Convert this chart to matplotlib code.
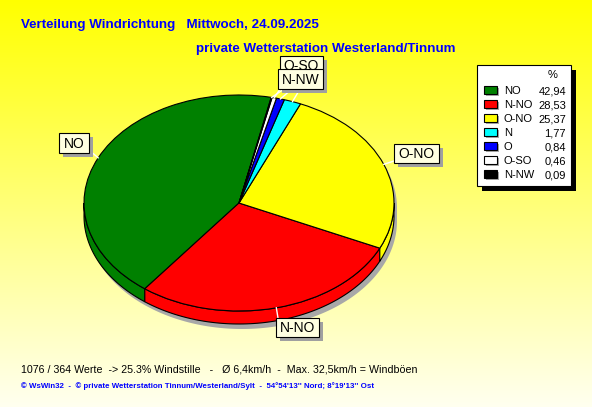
import matplotlib
matplotlib.use('Agg')
import matplotlib.pyplot as plt
import numpy as np
from matplotlib.patches import Rectangle, Polygon

categories = ['NO', 'N-NO', 'O-NO', 'N', 'O', 'O-SO', 'N-NW']
percent = [42.94, 28.53, 25.37, 1.77, 0.84, 0.46, 0.09]
colors = ['#008000', '#FF0000', '#FFFF00', '#00FFFF', '#0000FF', '#FFFFFF', '#000000']
title1 = 'Verteilung Windrichtung   Mittwoch, 24.09.2025'
title2 = 'private Wetterstation Westerland/Tinnum'
footer1 = '1076 / 364 Werte  -> 25.3% Windstille   -   \u00d8 6,4km/h  -  Max. 32,5km/h = Windb\u00f6en'
footer2 = "\u00a9 WsWin32  -  \u00a9 private Wetterstation Tinnum/Westerland/Sylt  -  54\u00b054'13'' Nord; 8\u00b019'13'' Ost"

W, H = 592, 407
fig = plt.figure(figsize=(W / 100, H / 100), dpi=100)
bg = fig.add_axes([0, 0, 1, 1])
bg.set_xlim(0, W)
bg.set_ylim(H, 0)
bg.axis('off')

# background gradient
yy = np.linspace(0, 1, 256)
grad = np.zeros((256, 1, 3))
grad[:, 0, 0] = 1.0
grad[:, 0, 1] = 1.0
grad[:, 0, 2] = 0.0 + 0.94 * yy
bg.imshow(grad, extent=[0, W, H, 0], aspect='auto', interpolation='bilinear')

# pie axes
cx, cy, rx, ry = 239, 203, 155, 108
hw, hh = 200, 160
pax = fig.add_axes([(cx - hw) / W, (H - (cy + hh)) / H, 2 * hw / W, 2 * hh / H])
wedges, _ = pax.pie(percent, colors=colors, startangle=78, counterclock=True,
                    wedgeprops=dict(edgecolor='black', linewidth=0.8, zorder=3))
pax.set_aspect('auto')
pax.set_xlim(-hw / rx, hw / rx)
pax.set_ylim(-hh / ry, hh / ry)
pax.axis('off')
d = 13 / ry

# shadow
t = np.linspace(0, 2 * np.pi, 400)
sx = np.cos(t) + 3 / rx
sy = np.sin(t) - np.where(np.sin(t) < 0, d, 0) - 5 / ry
pax.add_patch(Polygon(np.column_stack([sx, sy]), closed=True, facecolor='#A8A8A8',
                      edgecolor='none', zorder=1))

# side walls
for w, c in zip(wedges, colors):
    a, b = w.theta1, w.theta2
    for lo, hi in [(180, 360), (540, 720)]:
        s, e = max(a, lo), min(b, hi)
        if e > s:
            tt = np.radians(np.linspace(s, e, 80))
            top = np.column_stack([np.cos(tt), np.sin(tt)])
            bot = np.column_stack([np.cos(tt[::-1]), np.sin(tt[::-1]) - d])
            pax.add_patch(Polygon(np.vstack([top, bot]), closed=True, facecolor=c,
                                  edgecolor='black', linewidth=0.8, zorder=2))

# overlay for labels
ov = fig.add_axes([0, 0, 1, 1])
ov.set_xlim(0, W)
ov.set_ylim(H, 0)
ov.axis('off')
ov.patch.set_alpha(0)

def pie_pt(wedge):
    m = np.radians((wedge.theta1 + wedge.theta2) / 2)
    disp = pax.transData.transform((np.cos(m), np.sin(m)))
    return ov.transData.inverted().transform(disp)

boxes = [  # label, x0, y0, x1, y1, anchor
    ('NO', 59, 133, 89, 153, (89, 150)),
    ('O-NO', 394, 144, 439, 163, (394, 161)),
    ('N-NO', 276, 318, 319, 337, (278, 318)),
    ('O-SO', 280, 56, 323, 74, (290, 74)),
    ('N-NW', 278, 69, 323, 89, (284, 89)),
]
for lab, x0, y0, x1, y1, anc in boxes:
    wdg = wedges[categories.index(lab)]
    p = pie_pt(wdg)
    ov.plot([anc[0], p[0]], [anc[1], p[1]], color='white', lw=1, zorder=1)
# extra leader lines for the hidden small-slice labels (N, O)
for lab, anc in [('N', (300, 89)), ('O', (292, 89))]:
    p = pie_pt(wedges[categories.index(lab)])
    ov.plot([anc[0], p[0]], [anc[1], p[1]], color='white', lw=1, zorder=1)
for lab, x0, y0, x1, y1, anc in boxes:
    ov.add_patch(Rectangle((x0 + 4, y0 + 4), x1 - x0, y1 - y0, facecolor='#A0A0A0',
                           edgecolor='none', zorder=2))
    ov.add_patch(Rectangle((x0, y0), x1 - x0, y1 - y0, facecolor='#FFFFE1',
                           edgecolor='black', linewidth=0.8, zorder=2))
    ov.text((x0 + x1) / 2, (y0 + y1) / 2 + 0.5, lab, ha='center', va='center',
            fontsize=10, family='Liberation Sans', zorder=2)

# legend
lx0, ly0, lx1, ly1 = 477, 65, 571, 186
ov.add_patch(Rectangle((lx0 + 5, ly0 + 5), lx1 - lx0, ly1 - ly0, facecolor='black',
                       edgecolor='none', zorder=4))
ov.add_patch(Rectangle((lx0, ly0), lx1 - lx0, ly1 - ly0, facecolor='white',
                       edgecolor='black', linewidth=0.8, zorder=4))
ov.text(553, 75, '%', ha='center', va='center', fontsize=8,
        family='Liberation Sans', zorder=5)
for i, (lab, v, c) in enumerate(zip(categories, percent, colors)):
    y = 91 + i * 14
    ov.add_patch(Rectangle((486, y - 3), 13, 8, facecolor='#A8A8A8', edgecolor='none', zorder=5))
    ov.add_patch(Rectangle((484, y - 5), 13, 8, facecolor=c, edgecolor='black',
                           linewidth=0.8, zorder=5))
    ov.text(504, y, lab, ha='left', va='center', fontsize=8,
            family='Liberation Sans', zorder=5)
    ov.text(566, y, f'{v:.2f}'.replace('.', ','), ha='right', va='center', fontsize=8,
            family='Liberation Sans', zorder=5)

# titles
ov.text(21, 25, title1, ha='left', va='center', fontsize=9.6, fontweight='bold',
        color='#0000FF', family='Liberation Sans')
ov.text(196, 49, title2, ha='left', va='center', fontsize=9.6, fontweight='bold',
        color='#0000FF', family='Liberation Sans')
ov.text(21, 369, footer1, ha='left', va='center', fontsize=7.7, color='black',
        family='Liberation Sans')
ov.text(21, 386, footer2, ha='left', va='center', fontsize=5.7, fontweight='bold',
        color='#0000FF', family='Liberation Sans')

fig.savefig('out.png', dpi=100)
